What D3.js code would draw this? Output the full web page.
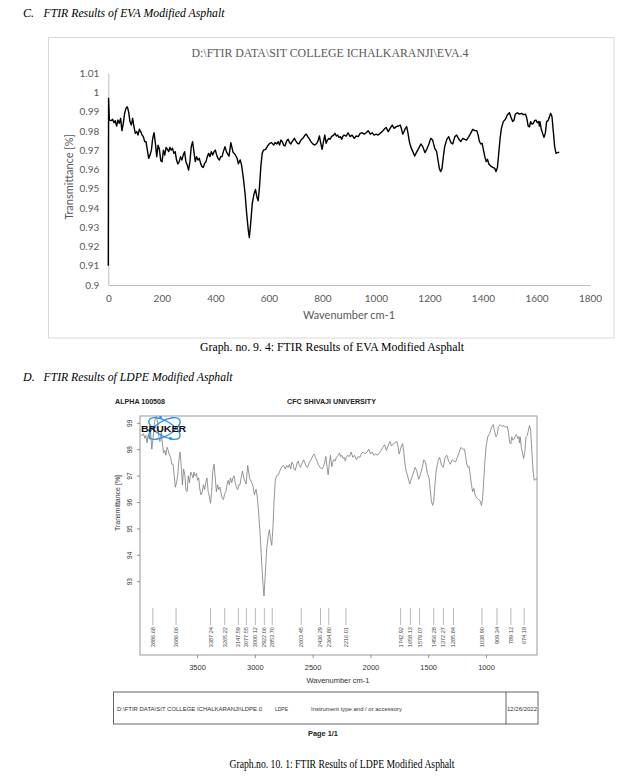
<!DOCTYPE html>
<html><head><meta charset="utf-8">
<script src="https://cdn.jsdelivr.net/npm/d3@7"></script>
<style>body{margin:0;background:#fff;} svg{display:block;}</style>
</head><body>
<svg id="page" width="639" height="779"></svg>
<script>
// ---------- EVA chart data (x = point number as plotted, y = transmittance fraction) ----------
const evaWavenumber = [0,1,4,11,16,21,26,31,36,41,
46,51,56,61,66,71,76,81,86,91,
96,101,106,111,116,121,126,131,136,141,
146,151,156,161,166,171,176,181,186,191,
196,201,206,211,216,221,226,230,235,240,
245,250,255,260,265,270,275,280,285,290,
295,300,305,310,315,320,325,330,335,340,
345,350,355,360,365,370,375,380,385,390,
395,400,405,410,415,420,425,430,436,442,
451,458,466,473,481,486,493,498,504,511,
517,523,527,532,538,545,550,555,560,565,
570,575,580,588,595,603,610,618,623,630,
635,640,645,650,655,660,667,672,677,682,
687,695,700,707,712,720,727,735,740,745,
750,757,764,772,779,784,789,794,799,804,
809,814,819,824,829,834,842,847,852,857,
862,867,872,876,881,889,896,904,911,919,
926,934,941,949,956,964,971,979,986,993,
1001,1008,1016,1023,1031,1038,1046,1053,1061,1068,
1076,1083,1091,1096,1100,1105,1110,1115,1120,1125,
1130,1138,1145,1153,1160,1168,1175,1183,1190,1198,
1205,1212,1220,1227,1232,1237,1242,1247,1252,1257,
1265,1272,1280,1287,1295,1302,1310,1317,1325,1332,
1339,1347,1354,1362,1369,1377,1382,1387,1392,1397,
1402,1407,1412,1417,1422,1429,1437,1444,1449,1454,
1459,1464,1469,1476,1484,1491,1499,1504,1511,1516,
1521,1529,1536,1544,1551,1559,1564,1569,1574,1578,
1583,1588,1593,1598,1603,1608,1611,1613,1618,1623,
1628,1633,1638,1643,1648,1653,1658,1663,1668,1673,
1678,1685];
const evaTransmittance = [0.910,0.997,0.9857,0.9854,0.9861,0.9843,0.9854,0.9826,0.9857,0.9840,
0.9866,0.9802,0.9840,0.9892,0.9918,0.9926,0.9900,0.9849,0.9831,0.9866,
0.9822,0.9788,0.9797,0.9779,0.9809,0.9797,0.9779,0.9771,0.9745,0.9745,
0.9701,0.9658,0.9675,0.9701,0.9762,0.9791,0.9736,0.9667,0.9727,0.9705,
0.9646,0.9641,0.9701,0.9675,0.9715,0.9705,0.9693,0.9715,0.9701,0.9710,
0.9684,0.9693,0.9649,0.9629,0.9641,0.9667,0.9649,0.9675,0.9693,0.9641,
0.9623,0.9597,0.9641,0.9719,0.9745,0.9693,0.9641,0.9667,0.9649,0.9658,
0.9632,0.9615,0.9611,0.9632,0.9641,0.9667,0.9684,0.9667,0.9693,0.9675,
0.9693,0.9701,0.9675,0.9658,0.9649,0.9667,0.9667,0.9693,0.9719,0.9690,
0.9670,0.9740,0.9690,0.9680,0.9660,0.9630,0.9650,0.9623,0.9563,0.9476,
0.9372,0.9286,0.9246,0.9320,0.9424,0.9476,0.9497,0.9459,0.9438,0.9510,
0.9615,0.9684,0.9701,0.9705,0.9722,0.9736,0.9740,0.9727,0.9740,0.9733,
0.9745,0.9727,0.9753,0.9745,0.9727,0.9722,0.9750,0.9757,0.9740,0.9733,
0.9745,0.9762,0.9750,0.9736,0.9733,0.9753,0.9762,0.9779,0.9784,0.9771,
0.9762,0.9745,0.9733,0.9727,0.9736,0.9750,0.9774,0.9736,0.9705,0.9745,
0.9779,0.9736,0.9753,0.9762,0.9757,0.9771,0.9779,0.9788,0.9774,0.9779,
0.9767,0.9771,0.9757,0.9771,0.9779,0.9774,0.9791,0.9771,0.9779,0.9762,
0.9774,0.9771,0.9788,0.9791,0.9784,0.9791,0.9802,0.9784,0.9791,0.9779,
0.9784,0.9779,0.9788,0.9797,0.9809,0.9819,0.9797,0.9814,0.9831,0.9814,
0.9823,0.9826,0.9831,0.9809,0.9784,0.9797,0.9814,0.9823,0.9788,0.9745,
0.9719,0.9693,0.9670,0.9693,0.9710,0.9733,0.9719,0.9688,0.9705,0.9733,
0.9762,0.9753,0.9710,0.9693,0.9649,0.9606,0.9589,0.9606,0.9667,0.9719,
0.9757,0.9771,0.9740,0.9733,0.9771,0.9779,0.9757,0.9745,0.9762,0.9757,
0.9753,0.9771,0.9788,0.9809,0.9802,0.9802,0.9779,0.9745,0.9733,0.9736,
0.9701,0.9667,0.9641,0.9653,0.9629,0.9618,0.9611,0.9606,0.9589,0.9611,
0.9684,0.9762,0.9814,0.9849,0.9861,0.9883,0.9895,0.9874,0.9849,0.9857,
0.9888,0.9895,0.9888,0.9892,0.9885,0.9888,0.9866,0.9826,0.9822,0.9849,
0.9836,0.9840,0.9854,0.9857,0.9843,0.9849,0.9826,0.9849,0.9809,0.9788,
0.9767,0.9788,0.9849,0.9854,0.9871,0.9892,0.9874,0.9797,0.9719,0.9684,
0.9688,0.9690];
const evaXTicks = [0,200,400,600,800,1000,1200,1400,1600,1800];
const evaYTicks = [0.9,0.91,0.92,0.93,0.94,0.95,0.96,0.97,0.98,0.99,1,1.01];

// ---------- LDPE chart data (wavenumber cm-1, transmittance %) ----------
const ldpeWavenumber = [3992,3978,3967,3957,3947,3937,3927,3916,
3906,3896,3886,3876,3865,3855,3845,3835,3825,3814,
3804,3794,3784,3774,3763,3753,3743,3733,3723,3712,
3702,3692,3682,3672,3661,3651,3641,3631,3621,3610,
3600,3590,3580,3570,3559,3549,3539,3531,3521,3510,
3500,3490,3480,3470,3459,3449,3439,3429,3419,3408,
3398,3388,3378,3368,3357,3347,3337,3327,3317,3306,
3296,3286,3276,3266,3255,3245,3235,3225,3215,3204,
3194,3184,3174,3164,3153,3143,3133,3123,3111,3098,
3080,3066,3049,3035,3019,3009,2994,2984,2972,2958,
2945,2933,2925,2915,2902,2888,2878,2868,2858,2847,
2837,2827,2817,2800,2786,2770,2756,2739,2729,2715,
2705,2694,2684,2674,2664,2654,2639,2629,2619,2609,
2599,2582,2572,2558,2548,2531,2517,2501,2490,2480,
2470,2456,2441,2425,2411,2401,2390,2380,2370,2360,
2350,2339,2329,2319,2309,2299,2282,2272,2262,2252,
2242,2231,2221,2213,2203,2186,2172,2156,2142,2125,
2111,2095,2080,2064,2050,2033,2019,2003,1989,1974,
1958,1944,1927,1913,1897,1882,1866,1852,1836,1821,
1805,1791,1774,1764,1756,1746,1736,1725,1715,1705,
1695,1678,1664,1648,1634,1617,1603,1587,1572,1556,
1542,1528,1511,1497,1487,1477,1466,1456,1446,1436,
1419,1405,1389,1374,1358,1344,1328,1313,1297,1283,
1268,1252,1238,1222,1207,1191,1181,1171,1160,1150,
1140,1130,1120,1109,1099,1085,1069,1054,1044,1034,
1024,1013,1003,989,973,958,942,932,918,907,
897,881,867,850,836,820,810,799,789,781,
771,760,750,740,730,720,714,709,699,689,
679,669,658,648,638,628,618,608,597,587,
577,563];
const ldpeTransmittance = [98.57,98.54,98.61,98.43,98.54,98.26,98.57,98.40,
98.66,98.02,98.40,98.92,99.18,99.26,99.00,98.49,98.31,98.66,
98.22,97.88,97.97,97.79,98.09,97.97,97.79,97.71,97.45,97.45,
97.01,96.58,96.75,97.01,97.62,97.91,97.36,96.67,97.27,97.05,
96.46,96.41,97.01,96.75,97.15,97.05,96.93,97.15,97.01,97.10,
96.84,96.93,96.49,96.29,96.41,96.67,96.49,96.75,96.93,96.41,
96.23,95.97,96.41,97.19,97.45,96.93,96.41,96.67,96.49,96.58,
96.32,96.15,96.11,96.32,96.41,96.67,96.84,96.67,96.93,96.75,
96.93,97.01,96.75,96.58,96.49,96.67,96.67,96.93,97.19,96.90,
96.70,97.40,96.90,96.80,96.60,96.30,96.50,96.23,95.63,94.76,
93.72,92.86,92.46,93.20,94.24,94.76,94.97,94.59,94.38,95.10,
96.15,96.84,97.01,97.05,97.22,97.36,97.40,97.27,97.40,97.33,
97.45,97.27,97.53,97.45,97.27,97.22,97.50,97.57,97.40,97.33,
97.45,97.62,97.50,97.36,97.33,97.53,97.62,97.79,97.84,97.71,
97.62,97.45,97.33,97.27,97.36,97.50,97.74,97.36,97.05,97.45,
97.79,97.36,97.53,97.62,97.57,97.71,97.79,97.88,97.74,97.79,
97.67,97.71,97.57,97.71,97.79,97.74,97.91,97.71,97.79,97.62,
97.74,97.71,97.88,97.91,97.84,97.91,98.02,97.84,97.91,97.79,
97.84,97.79,97.88,97.97,98.09,98.19,97.97,98.14,98.31,98.14,
98.23,98.26,98.31,98.09,97.84,97.97,98.14,98.23,97.88,97.45,
97.19,96.93,96.70,96.93,97.10,97.33,97.19,96.88,97.05,97.33,
97.62,97.53,97.10,96.93,96.49,96.06,95.89,96.06,96.67,97.19,
97.57,97.71,97.40,97.33,97.71,97.79,97.57,97.45,97.62,97.57,
97.53,97.71,97.88,98.09,98.02,98.02,97.79,97.45,97.33,97.36,
97.01,96.67,96.41,96.53,96.29,96.18,96.11,96.06,95.89,96.11,
96.84,97.62,98.14,98.49,98.61,98.83,98.95,98.74,98.49,98.57,
98.88,98.95,98.88,98.92,98.85,98.88,98.66,98.26,98.22,98.49,
98.36,98.40,98.54,98.57,98.43,98.49,98.26,98.49,98.09,97.88,
97.67,97.88,98.49,98.54,98.71,98.92,98.74,97.97,97.19,96.84,
96.88,96.90];
const ldpeXTicks = [3500,3000,2500,2000,1500,1000];
const ldpeYTicks = [93,94,95,96,97,98,99];
const ldpePeaks = [3886.68,3686.06,3387.24,3265.22,3147.59,3077.55,3000.12,2922.06,2853.70,
2603.45,2436.29,2364.80,2216.01,1742.92,1658.13,1579.07,1456.28,1372.27,1285.84,
1038.90,909.34,789.12,674.18];

// ---------- drawing ----------
const svg = d3.select("#page");
const SERIF = "'Liberation Serif','Times New Roman',serif";
const SANS = "'Liberation Sans',Arial,sans-serif";
const XL = "Lato,'Open Sans',sans-serif";

function text(x, y, s, o = {}) {
  const t = svg.append("text").attr("x", x).attr("y", y).text(s)
    .attr("font-family", o.family || SERIF).attr("font-size", o.size || 12)
    .attr("fill", o.fill || "#000").attr("text-anchor", o.anchor || "start");
  if (o.italic) t.attr("font-style", "italic");
  if (o.bold) t.attr("font-weight", "bold");
  if (o.len) t.attr("textLength", o.len).attr("lengthAdjust", "spacingAndGlyphs");
  return t;
}

// Headings and captions
text(23, 17, "C.", {italic: true, size: 12});
text(43.5, 17, "FTIR Results of EVA Modified Asphalt", {italic: true, size: 12, len: 181});
text(332, 351, "Graph. no. 9. 4: FTIR Results of EVA Modified Asphalt", {size: 12, anchor: "middle", len: 264});
text(23, 381, "D.", {italic: true, size: 12});
text(43.5, 381, "FTIR Results of LDPE Modified Asphalt", {italic: true, size: 12, len: 189});
text(342, 768, "Graph.no. 10. 1: FTIR Results of LDPE Modified Asphalt", {size: 12, anchor: "middle", len: 225});

// ===== Chart 1: EVA (Excel style) =====
svg.append("rect").attr("x", 48.5).attr("y", 37.5).attr("width", 565.5).attr("height", 300.5)
  .attr("fill", "none").attr("stroke", "#d9d9d9");
text(330, 56.5, "D:\\FTIR DATA\\SIT COLLEGE ICHALKARANJI\\EVA.4", {size: 12, anchor: "middle", fill: "#595959", len: 277});

const evaX = d3.scaleLinear().domain([0, 1800]).range([108.3, 590]);
const evaY = d3.scaleLinear().domain([0.9, 1.01]).range([285, 73.3]);

const gEY = svg.append("g").attr("transform", "translate(108.3,0)")
  .call(d3.axisLeft(evaY).tickValues(evaYTicks).tickSize(0).tickPadding(9)
    .tickFormat(d => String(+d.toFixed(2))));
const gEX = svg.append("g").attr("transform", "translate(0,285)")
  .call(d3.axisBottom(evaX).tickValues(evaXTicks).tickSize(0).tickPadding(10)
    .tickFormat(d => String(d)));
[gEY, gEX].forEach(g => {
  g.select(".domain").attr("stroke", "#bfbfbf");
  g.selectAll("text").attr("font-family", XL).attr("font-size", 10).attr("fill", "#595959");
});

svg.append("text").attr("transform", "translate(73,177) rotate(-90)")
  .attr("text-anchor", "middle").attr("font-family", XL).attr("font-size", 11)
  .attr("fill", "#595959").text("Transmittance [%]");
text(349, 319, "Wavenumber cm-1", {family: XL, size: 11, anchor: "middle", fill: "#595959"});

const evaData = evaWavenumber.map((w, i) => [w, evaTransmittance[i]]);
svg.append("path").datum(evaData)
  .attr("d", d3.line().x(d => evaX(d[0])).y(d => evaY(d[1])))
  .attr("fill", "none").attr("stroke", "#000").attr("stroke-width", 1.4)
  .attr("stroke-linejoin", "round");

// ===== Chart 2: LDPE (Bruker OPUS style) =====
text(115, 404, "ALPHA 100508", {family: SANS, size: 7.3, bold: true, fill: "#222", len: 50});
text(287, 404, "CFC SHIVAJI UNIVERSITY", {family: SANS, size: 7.3, bold: true, fill: "#222", len: 89});

const ldpeX = d3.scaleLinear().domain([3998, 563]).range([140, 537]);
const ldpeY = d3.scaleLinear().domain([93, 99]).range([581.7, 423.3]);

svg.append("rect").attr("x", 140).attr("y", 416).attr("width", 397).attr("height", 239)
  .attr("fill", "none").attr("stroke", "#9a9a9a").attr("stroke-width", 1);

// y ticks
const gLY = svg.append("g");
ldpeYTicks.forEach(t => {
  gLY.append("line").attr("x1", 137).attr("x2", 140).attr("y1", ldpeY(t)).attr("y2", ldpeY(t))
    .attr("stroke", "#777").attr("stroke-width", 0.8);
  gLY.append("text").attr("transform", `translate(130,${ldpeY(t)}) rotate(-90)`)
    .attr("dy", "0.35em").attr("text-anchor", "middle").attr("font-family", SANS)
    .attr("font-size", 6.5).attr("fill", "#333").text(t);
});
svg.append("text").attr("transform", "translate(118,503) rotate(-90)")
  .attr("dy", "0.35em").attr("text-anchor", "middle").attr("font-family", SANS)
  .attr("font-size", 7).attr("fill", "#333").text("Transmittance [%]");

// x ticks
const gLX = svg.append("g");
ldpeXTicks.forEach(t => {
  gLX.append("line").attr("x1", ldpeX(t)).attr("x2", ldpeX(t)).attr("y1", 655).attr("y2", 658)
    .attr("stroke", "#777").attr("stroke-width", 0.8);
  gLX.append("text").attr("x", ldpeX(t)).attr("y", 670).attr("text-anchor", "middle")
    .attr("font-family", SANS).attr("font-size", 7.5).attr("fill", "#333").text(t);
});
text(338, 683, "Wavenumber cm-1", {family: SANS, size: 7.5, anchor: "middle", fill: "#333"});

// peak markers
const gPk = svg.append("g");
ldpePeaks.forEach(p => {
  gPk.append("line").attr("x1", ldpeX(p)).attr("x2", ldpeX(p)).attr("y1", 608).attr("y2", 625)
    .attr("stroke", "#999").attr("stroke-width", 0.7);
  gPk.append("text").attr("transform", `translate(${ldpeX(p)},627) rotate(-90)`)
    .attr("dy", "0.35em").attr("text-anchor", "end").attr("font-family", SANS)
    .attr("font-size", 5.6).attr("fill", "#444").text(p.toFixed(2));
});

// spectrum
const ldpeData = ldpeWavenumber.map((w, i) => [w, ldpeTransmittance[i]]);
svg.append("path").datum(ldpeData)
  .attr("d", d3.line().x(d => ldpeX(d[0])).y(d => ldpeY(d[1])))
  .attr("fill", "none").attr("stroke", "#7a7a7a").attr("stroke-width", 0.8)
  .attr("stroke-linejoin", "round");

// Bruker logo
const logo = svg.append("g").attr("transform", "translate(164.5,428.5)");
[-30, 30].forEach(a => {
  logo.append("ellipse").attr("rx", 17.5).attr("ry", 7.5).attr("transform", `rotate(${a})`)
    .attr("fill", "none").attr("stroke", "#2f8fe0").attr("stroke-width", 1.4);
});
[[-4, -11], [6, 10], [-15, 2]].forEach(([x, y]) =>
  logo.append("circle").attr("cx", x).attr("cy", y).attr("r", 1.4).attr("fill", "#2f8fe0"));
text(141, 432, "BRUKER", {family: SANS, size: 8.5, bold: true, fill: "#111", len: 45});

// info table
svg.append("rect").attr("x", 113.5).attr("y", 692).attr("width", 424.5).attr("height", 32)
  .attr("fill", "none").attr("stroke", "#555").attr("stroke-width", 0.9);
svg.append("line").attr("x1", 506).attr("x2", 506).attr("y1", 692).attr("y2", 724)
  .attr("stroke", "#555").attr("stroke-width", 0.9);
text(117, 711, "D:\\FTIR DATA\\SIT COLLEGE ICHALKARANJI\\LDPE.0", {family: SANS, size: 5.5, fill: "#333", len: 145});
text(275, 711, "LDPE", {family: SANS, size: 5.5, fill: "#333", len: 13});
text(311, 711, "Instrument type and / or accessory", {family: SANS, size: 5.5, fill: "#333", len: 91});
text(507, 711, "12/26/2022", {family: SANS, size: 5.5, fill: "#333", len: 30});
text(323, 736, "Page 1/1", {family: SANS, size: 7, bold: true, anchor: "middle", fill: "#222", len: 30});
</script>
</body></html>
